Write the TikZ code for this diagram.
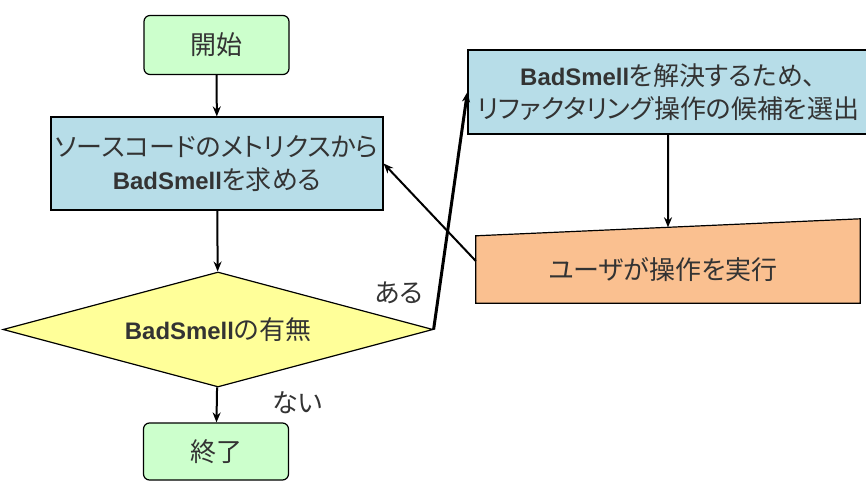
\documentclass[tikz,border=0pt]{standalone}
\usepackage{fontspec}
\setmainfont{Noto Sans CJK JP}[RawFeature=+palt]
\newfontfamily\latinfont{Liberation Sans}[Scale=0.92]
\usetikzlibrary{shapes.geometric,arrows.meta,calc,backgrounds}

\definecolor{boxgreen}{RGB}{204,255,204}
\definecolor{boxblue}{RGB}{183,221,232}
\definecolor{boxyellow}{RGB}{255,255,153}
\definecolor{boxorange}{RGB}{250,192,144}
\newcommand\badsmell{{\latinfont\bfseries BadSmell}}

\begin{document}
\begin{tikzpicture}[x=1pt,y=-1pt,
  every node/.style={font=\fontsize{26}{33}\selectfont, text=black!80},
  flowbox/.style={draw, line width=1.2pt, inner sep=0pt, align=center},
  terminal/.style={flowbox, fill=boxgreen, rounded corners=6pt, minimum width=145pt, minimum height=59pt},
  process/.style={flowbox, fill=boxblue},
  flowarrow/.style={-{Stealth[length=10pt,width=8pt]}, line width=2pt},
  branch/.style={font=\fontsize{26}{30}\selectfont}]
\useasboundingbox (0,0) rectangle (866,481);

% main column
\node[terminal] (start) at (216.5,45) {開始};
\node[process, minimum width=332pt, minimum height=93pt] (metrics) at (217,163.5) {ソースコードのメトリクスから\\\badsmell を求める};
\node[flowbox, diamond, aspect=3.74, fill=boxyellow, minimum width=430pt, minimum height=115pt] (check) at (218,329.5) {\badsmell の有無};
\node[terminal, minimum height=57pt] (end) at (216,451.5) {終了};

% right column
\node[process, minimum width=400pt, minimum height=84pt] (select) at (668,92) {\badsmell を解決するため、\\リファクタリング操作の候補を選出};
\node[minimum width=384pt, minimum height=84pt, inner sep=0pt] (exec) at (668,261) {};
\coordinate (execnw) at ($(exec.north west)+(0,17)$);
\coordinate (exectop) at ($(execnw)!0.5!(exec.north east)$);
\begin{scope}[on background layer]
\draw[line width=1.2pt, fill=boxorange] (exec.south west) -- (exec.south east) -- (exec.north east) -- (execnw) -- cycle;
\end{scope}
\node (exectext) at (663,270) {ユーザが操作を実行};

% connectors
\draw[flowarrow] (start) -- (metrics);
\draw[flowarrow] (metrics) -- (check);
\draw[flowarrow] (check) -- (end);
\draw[flowarrow, line width=3pt] (check.east) -- (select.west);
\draw[flowarrow] (select) -- (exectop);
\draw[flowarrow] (exec.west) -- (metrics.east);

\node[branch] (yes) at (399,293) {ある};
\node[branch] (no) at (297,403) {ない};
\end{tikzpicture}
\end{document}
